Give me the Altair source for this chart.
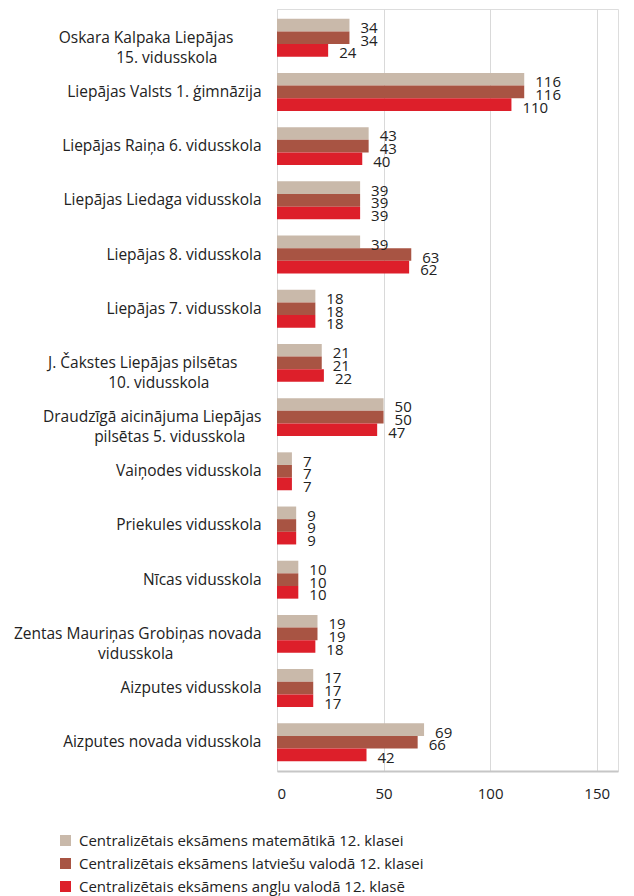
import altair as alt
import pandas as pd

NB = "\u00a0"
BL = "\u2800"


def pad(px):
    # invisible trailing filler so wrapped label lines sit centred like the original
    k = max(1, int(px // 12))
    n = max(0, round((px - 12 * k) / 4.03))
    return NB * n + BL * k


schools = [
    "Oskara Kalpaka Liepājas" + pad(28.5) + "|15. vidusskola" + pad(43.5),
    "Liepājas Valsts 1. ģimnāzija",
    "Liepājas Raiņa 6. vidusskola",
    "Liepājas Liedaga vidusskola",
    "Liepājas 8. vidusskola",
    "Liepājas 7. vidusskola",
    "J. Čakstes Liepājas pilsētas" + pad(24) + "|10. vidusskola" + pad(50.5),
    "Draudzīgā aicinājuma Liepājas|pilsētas 5. vidusskola" + pad(17),
    "Vaiņodes vidusskola",
    "Priekules vidusskola",
    "Nīcas vidusskola",
    "Zentas Mauriņas Grobiņas novada|vidusskola" + pad(87.5),
    "Aizputes vidusskola",
    "Aizputes novada vidusskola",
]
series = [
    "Centralizētais eksāmens matemātikā 12. klasei",
    "Centralizētais eksāmens latviešu valodā 12. klasei",
    "Centralizētais eksāmens angļu valodā 12. klasē",
]
math_vals = [34, 116, 43, 39, 39, 18, 21, 50, 7, 9, 10, 19, 17, 69]
latv_vals = [34, 116, 43, 39, 63, 18, 21, 50, 7, 9, 10, 19, 17, 66]
eng_vals = [24, 110, 40, 39, 62, 18, 22, 47, 7, 9, 10, 18, 17, 42]
colors = ["#C9B9AA", "#A85443", "#DD1F2A"]

rows = []
for i, s in enumerate(schools):
    for name, vals in zip(series, [math_vals, latv_vals, eng_vals]):
        rows.append({"school": s, "series": name, "value": vals[i]})
df = pd.DataFrame(rows)

FONT = "Open Sans"
TXT = "#222222"

y_enc = alt.Y("school:N", sort=schools, title=None,
              scale=alt.Scale(paddingInner=0.3, paddingOuter=0.18),
              axis=alt.Axis(labelExpr="split(datum.label, '|')", labelFontSize=15.5,
                            labelColor=TXT, labelFont=FONT, ticks=False,
                            domain=False, labelPadding=16, labelLimit=400,
                            labelLineHeight=20))
yoff = alt.YOffset("series:N", sort=series)

base = alt.Chart(df).encode(y=y_enc, yOffset=yoff)

bars = base.mark_bar().encode(
    x=alt.X("value:Q", title=None,
            scale=alt.Scale(domain=[0, 150]),
            axis=alt.Axis(values=[0, 50, 100, 150], grid=True, gridColor="#d9d9d9",
                          ticks=False, domainColor="#c6c6c6", domainWidth=2,
                          labelPadding=15, labelFontSize=15, labelColor=TXT,
                          labelFont=FONT)),
    color=alt.Color("series:N", sort=series,
                    scale=alt.Scale(domain=series, range=colors),
                    legend=alt.Legend(title=None, orient="none", legendX=-219,
                                      legendY=824, direction="vertical",
                                      symbolType="square", symbolSize=121,
                                      symbolStrokeWidth=0,
                                      labelFontSize=15, labelFont=FONT,
                                      labelColor=TXT, rowPadding=7,
                                      labelOffset=6, labelLimit=500)),
)

labels = base.mark_text(align="left", dx=11, dy=3, fontSize=15, font=FONT,
                        color=TXT).encode(
    x="value:Q", text="value:Q")

chart = (bars + labels).properties(
    width=341, height=762,
    padding={"left": 5, "top": 1, "right": 5, "bottom": 5},
).configure_view(stroke=None).configure(background="white")

chart.save("out.html", embed_options={"renderer": "svg", "actions": False})
